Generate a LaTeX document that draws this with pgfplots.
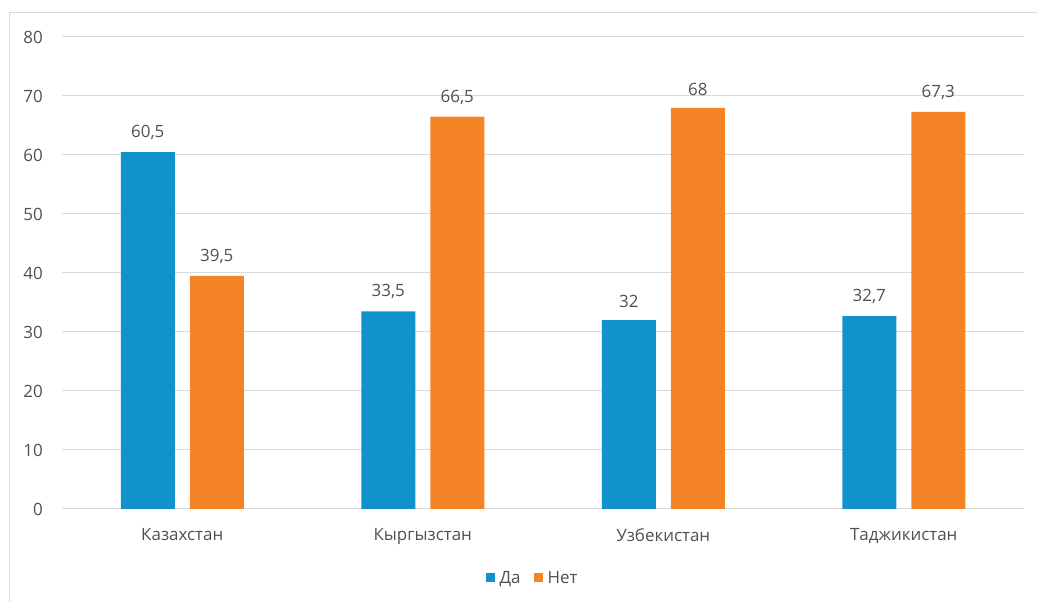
\documentclass[border=0pt]{standalone}
\usepackage{pgfplots}
\pgfplotsset{compat=1.18}
\usepackage{fontspec}
\setmainfont{Open Sans}
\definecolor{dablue}{RGB}{17,146,204}
\definecolor{netorange}{RGB}{245,132,38}
\definecolor{txt}{RGB}{80,80,80}
\definecolor{gridgray}{RGB}{217,217,217}
\begin{document}
\begin{tikzpicture}[x=1bp,y=1bp]
\path[use as bounding box] (0,0) rectangle (1037,602);
\draw[gridgray, line width=1bp] (9,0) -- (9,589) -- (1037,589);
\begin{axis}[
  at={(62bp,93bp)}, anchor=south west,
  scale only axis, width=962bp, height=472bp,
  xmin=-0.5, xmax=3.5, ymin=0, ymax=80,
  enlargelimits=false,
  ybar=15bp, bar width=54bp,
  xtick=data,
  xticklabels={Казахстан,Кыргызстан,Узбекистан,Таджикистан},
  ytick={0,10,...,80},
  xmajorgrids=false,
  ymajorgrids, major grid style={draw=gridgray, line width=1bp},
  axis line style={draw=none},
  major tick length=0pt,
  /pgf/number format/assume math mode=true,
  /pgf/number format/use comma,
  /pgf/number format/precision=1,
  tick label style={font=\fontsize{17}{20}\selectfont, text=txt},
  y tick label style={inner sep=0pt, xshift=-19bp},
  x tick label style={inner sep=0pt, yshift=-19bp},
  nodes near coords,
  every node near coord/.append style={font=\fontsize{17}{20}\selectfont, text=txt, inner sep=0pt, yshift=12bp},
  legend style={at={(0.4886,-0.146)}, anchor=center, draw=none, fill=none,
    legend columns=-1, font=\fontsize{17}{20}\selectfont, text=txt,
    /tikz/every even column/.append style={column sep=12bp},
    nodes={inner sep=1bp}},
  legend image code/.code={\path (0bp,0bp) -- (13bp,0bp); \fill[#1] (0bp,-4.5bp) rectangle (9bp,4.5bp);},
]
\addplot[fill=dablue, draw=none] coordinates {(0,60.5) (1,33.5) (2,32) (3,32.7)};
\addplot[fill=netorange, draw=none] coordinates {(0,39.5) (1,66.5) (2,68) (3,67.3)};
\legend{Да,Нет}
\end{axis}
\end{tikzpicture}
\end{document}
